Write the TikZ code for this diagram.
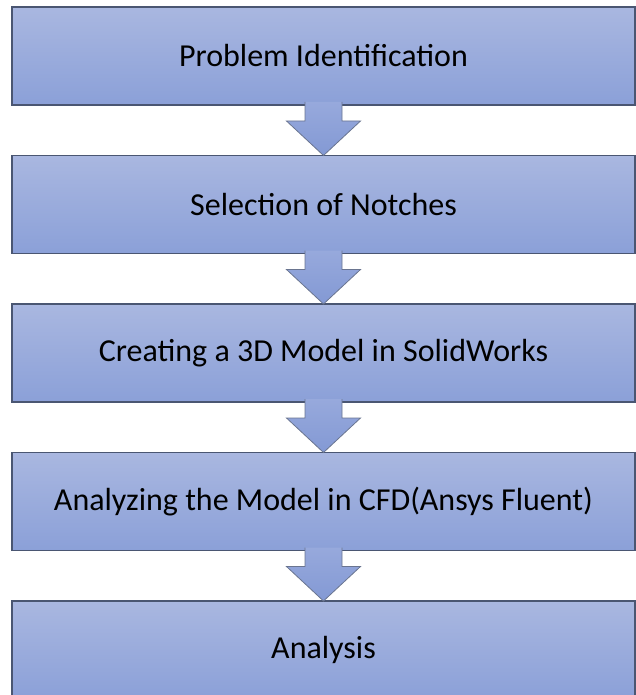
\documentclass[tikz,border=0pt]{standalone}
\usepackage{fontspec}
\setmainfont{Carlito}
\usetikzlibrary{calc}
\usetikzlibrary{positioning}
\definecolor{boxtop}{HTML}{A9B7E0}
\definecolor{boxbot}{HTML}{8BA0D8}
\definecolor{arrtop}{HTML}{97A9DC}
\definecolor{arrbot}{HTML}{8399D4}
\definecolor{boxline}{HTML}{4A5672}
\definecolor{arrline}{HTML}{6A7590}
\newcommand{\downarr}[2]{%
\draw[arr] ($(#1.south)+(-18.5,3)$) -- ($(#1.south)+(-18.5,-16)$) -- ($(#1.south)+(-37,-16)$) -- (#2.north) -- ($(#1.south)+(37,-16)$) -- ($(#1.south)+(18.5,-16)$) -- ($(#1.south)+(18.5,3)$);}

\begin{document}
\begin{tikzpicture}[x=1pt,y=1pt,
  stage/.style={draw=boxline, line width=1.2pt, top color=boxtop, bottom color=boxbot,
    minimum width=623pt, minimum height=98pt, inner sep=0pt, outer sep=0pt,
    font=\fontsize{32}{38}\selectfont},
  arr/.style={draw=arrline, line width=0.8pt, top color=arrtop, bottom color=arrbot}]
\useasboundingbox (0,0) rectangle (636,-695);
% the five stages
\node[stage] (s1) at (323.5,-56) {Problem Identification};
\node[stage] (s2) at (323.5,-204.5) {Selection of Notches};
\node[stage] (s3) at (323.5,-353) {Creating a 3D Model in SolidWorks};
\node[stage] (s4) at (323.5,-501.5) {Analyzing the Model in CFD(Ansys Fluent)};
\node[stage] (s5) at (323.5,-650) {Analysis};
% block arrows between them
\downarr{s1}{s2}
\downarr{s2}{s3}
\downarr{s3}{s4}
\downarr{s4}{s5}
\end{tikzpicture}
\end{document}
